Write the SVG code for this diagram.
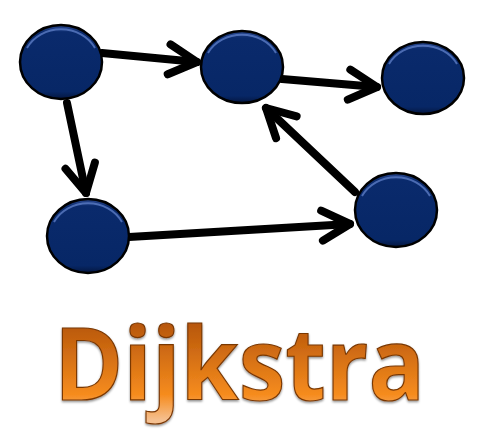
<svg xmlns="http://www.w3.org/2000/svg" width="500" height="434" viewBox="0 0 500 434">
<style>
.node{fill:url(#nodeFill);stroke:#000;stroke-width:2.5}
.hl{fill:none;stroke:#5b7cc4;stroke-width:2;opacity:.8}
.edge{fill:none;stroke:#000;stroke-width:8;stroke-linecap:round;marker-end:url(#arrow)}
.title{font-family:"Open Sans","Noto Sans","DejaVu Sans",sans-serif;font-weight:bold;font-size:100px;fill:url(#textFill);stroke:#7a3806;stroke-width:1.2}
</style>
<defs>
<linearGradient id="nodeFill" x1="0" y1="0" x2="0" y2="1">
<stop offset="0" stop-color="#2b4a92"/>
<stop offset="0.1" stop-color="#0a2a6c"/>
<stop offset="0.9" stop-color="#072766"/>
<stop offset="1" stop-color="#04163f"/>
</linearGradient>
<linearGradient id="textFill" gradientUnits="userSpaceOnUse" x1="0" y1="320" x2="0" y2="420">
<stop offset="0" stop-color="#b4540a"/>
<stop offset="0.75" stop-color="#f68c1e"/>
<stop offset="1" stop-color="#f5c090"/>
</linearGradient>
<marker id="arrow" markerUnits="userSpaceOnUse" orient="auto" refX="0" refY="0" markerWidth="40" markerHeight="40" overflow="visible">
<path d="M -28 -15 L 0 0 L -28 15" fill="none" stroke="#000" stroke-width="8" stroke-linecap="round" stroke-linejoin="round"/>
</marker>
<filter id="shadow" x="-10%" y="-10%" width="120%" height="130%">
<feDropShadow dx="0" dy="1.5" stdDeviation="1" flood-color="#000" flood-opacity="0.45"/>
</filter>
</defs>
<g id="connectors">
<path class="edge" d="M102 53 L197 62"/>
<path class="edge" d="M282 79 L377 87"/>
<path class="edge" d="M355 192 L266 108"/>
<path class="edge" d="M129 237 L350 224"/>
<path class="edge" d="M67 103 L86 193"/>
</g>
<g id="nodeA"><ellipse class="node" cx="61" cy="62" rx="41" ry="37"/><path class="hl" d="M27 48 A38 34 0 0 1 95 48"/></g>
<g id="nodeB"><ellipse class="node" cx="242" cy="67" rx="41" ry="36"/><path class="hl" d="M208 53 A38 33 0 0 1 276 53"/></g>
<g id="nodeC"><ellipse class="node" cx="423" cy="78" rx="41" ry="36"/><path class="hl" d="M389 64 A38 33 0 0 1 457 64"/></g>
<g id="nodeD"><ellipse class="node" cx="396" cy="210" rx="41" ry="37"/><path class="hl" d="M362 196 A38 34 0 0 1 430 196"/></g>
<g id="nodeE"><ellipse class="node" cx="88" cy="236" rx="41" ry="37"/><path class="hl" d="M54 222 A38 34 0 0 1 122 222"/></g>
<g id="title" filter="url(#shadow)">
<text class="title" x="54" y="400" textLength="371" lengthAdjust="spacingAndGlyphs">Dijkstra</text>
</g>
</svg>
